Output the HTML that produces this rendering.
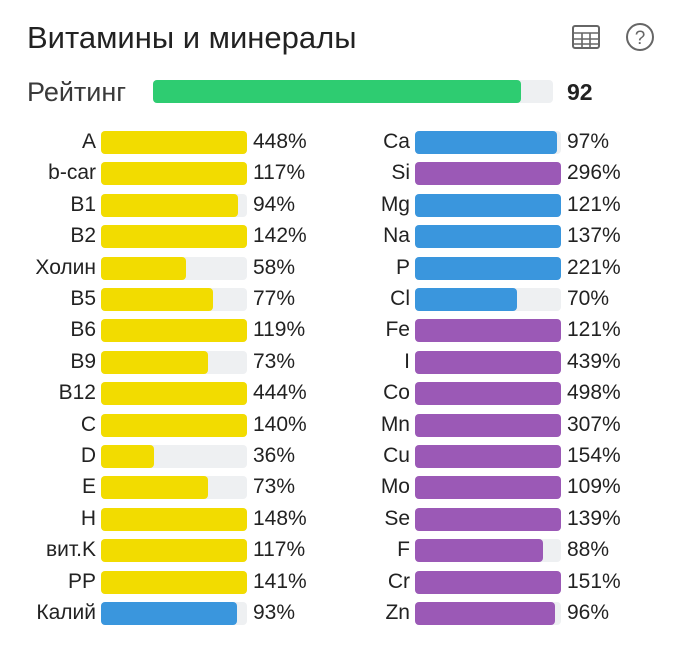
<!DOCTYPE html>
<html><head><meta charset="utf-8"><style>
body{margin:0;width:680px;height:647px;background:#fff;font-family:"Liberation Sans",sans-serif;color:#222;overflow:hidden;position:relative}
.abs{position:absolute}
.lbl{position:absolute;font-size:21px;text-align:right;width:90px;line-height:24px}
.val{position:absolute;font-size:21px;line-height:24px}
.track{position:absolute;height:23px;width:146px;background:#eef0f2;border-radius:4px}
.fill{position:absolute;left:0;top:0;height:23px;border-radius:4px}
</style></head><body>
<div class="abs" style="left:27px;top:20px;font-size:31px;line-height:36px">Витамины и минералы</div>
<svg class="abs" style="left:571px;top:24px" width="30" height="26" viewBox="0 0 30 26"><rect x="2" y="2" width="26" height="22" rx="2" fill="none" stroke="#666" stroke-width="2"/><path d="M2 9H28M2 15H28M2 20H28M11 9V24M19 9V24" stroke="#666" stroke-width="1.6" fill="none"/></svg>
<svg class="abs" style="left:625px;top:22px" width="30" height="30" viewBox="0 0 30 30"><circle cx="15" cy="15" r="13" fill="none" stroke="#666" stroke-width="2"/><text x="15" y="22" text-anchor="middle" font-size="19" fill="#666" font-family="Liberation Sans">?</text></svg>
<div class="abs" style="left:27px;top:77px;font-size:27px;line-height:30px;color:#3a3a3a">Рейтинг</div>
<div class="abs" style="left:153px;top:80px;width:400px;height:23px;background:#eef0f2;border-radius:4px"><div id="rfill" style="position:absolute;left:0;top:0;height:23px;background:#2ecc71;border-radius:4px"></div></div>
<div id="rval" class="abs" style="left:567px;top:78px;font-size:23px;line-height:28px;font-weight:bold"></div>
<div id="chart"></div>
<script>
const rating = 92;
const leftLabels = ["A","b-car","B1","B2","Холин","B5","B6","B9","B12","C","D","E","H","вит.K","PP","Калий"];
const leftValues = [448,117,94,142,58,77,119,73,444,140,36,73,148,117,141,93];
const leftColors = ["y","y","y","y","y","y","y","y","y","y","y","y","y","y","y","b"];
const rightLabels = ["Ca","Si","Mg","Na","P","Cl","Fe","I","Co","Mn","Cu","Mo","Se","F","Cr","Zn"];
const rightValues = [97,296,121,137,221,70,121,439,498,307,154,109,139,88,151,96];
const rightColors = ["b","p","b","b","b","b","p","p","p","p","p","p","p","p","p","p"];
const palette = {y:"#f2dc00",b:"#3a96dd",p:"#9b59b6"};
document.getElementById('rfill').style.width = (rating/100*400)+'px';
document.getElementById('rval').textContent = rating;
const chart = document.getElementById('chart');
const rowY = i => 131 + i*31.4;
const barW = v => Math.min(v,100)/100*146;
function col(labels, values, colors, lblRight, barX, valX, side){
  labels.forEach((l,i)=>{
    const y = rowY(i);
    const lb = document.createElement('div');
    lb.className='lbl';lb.style.left=(lblRight-90)+'px';lb.style.top=(y-1)+'px';lb.textContent=l;
    
    
    chart.appendChild(lb);
    const tr = document.createElement('div');
    tr.className='track';tr.style.left=barX+'px';tr.style.top=y+'px';
    
    
    const f = document.createElement('div');
    f.className='fill';f.style.width=barW(values[i])+'px';f.style.background=palette[colors[i]];
    
    
    tr.appendChild(f);chart.appendChild(tr);
    const v = document.createElement('div');
    v.className='val';v.style.left=valX+'px';v.style.top=(y-1)+'px';v.textContent=values[i]+'%';
    
    
    chart.appendChild(v);
  });
}
col(leftLabels,leftValues,leftColors,96,101,253,'vitamin');
col(rightLabels,rightValues,rightColors,410,415,567,'mineral');
</script>
</body></html>
